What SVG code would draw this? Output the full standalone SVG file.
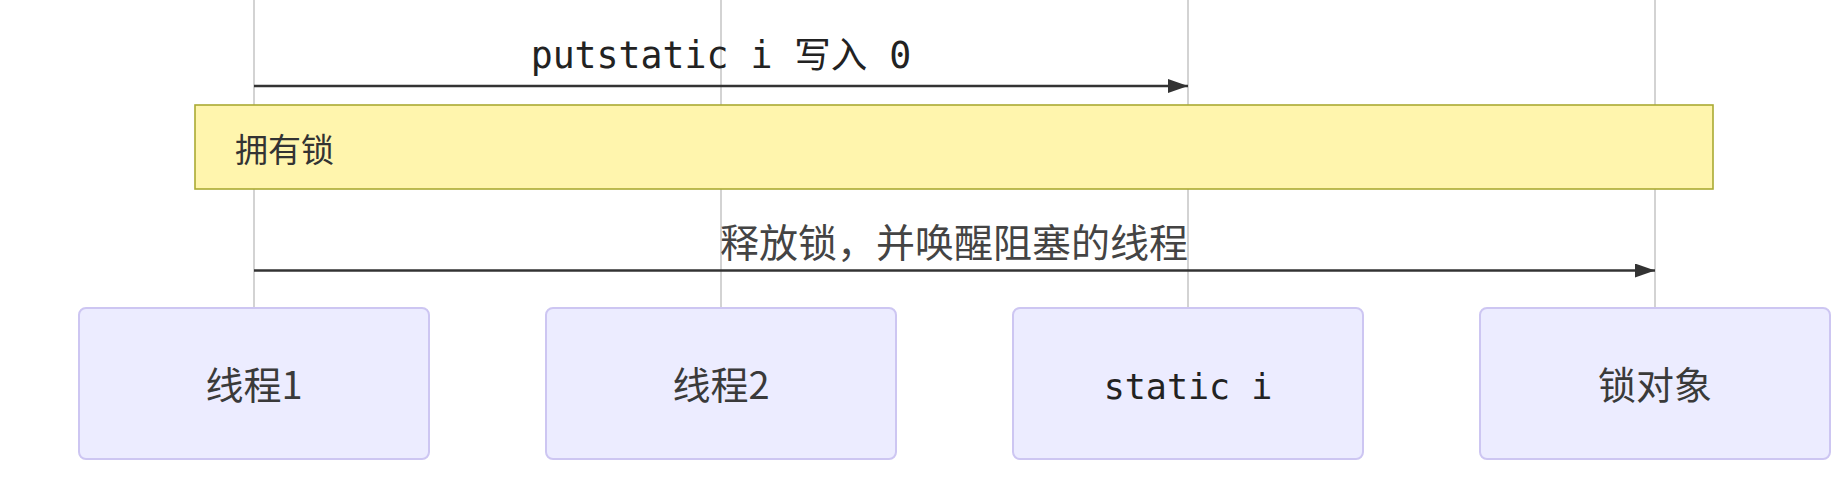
<svg xmlns="http://www.w3.org/2000/svg" width="1840" height="478" viewBox="0 0 1840 478">
  <style>
    .lifeline { stroke: #c8c8c8; stroke-width: 1.6; fill: none; }
    .actor { fill: #ECECFF; stroke: #cdc6f2; stroke-width: 2; }
    .actor-text { font-family: "Noto Sans CJK SC", "Noto Sans", sans-serif; font-size: 38px; fill: #3a3a3a; text-anchor: middle; }
    .actor-mono { font-family: "DejaVu Sans Mono", "Noto Sans CJK SC", monospace; font-size: 35px; fill: #222; text-anchor: middle; }
    .msg { stroke: #333; stroke-width: 2.6; fill: none; }
    .msg-mono { font-family: "DejaVu Sans Mono", "Noto Sans CJK SC", monospace; font-size: 36.5px; fill: #222; text-anchor: middle; }
    .msg-text { font-family: "Noto Sans CJK SC", "Noto Sans", sans-serif; font-size: 39px; fill: #444; text-anchor: middle; }
    .note { fill: #fff5ad; stroke: #aaaa33; stroke-width: 1.6; }
    .note-text { font-family: "Noto Sans CJK SC", "Noto Sans", sans-serif; font-size: 33px; fill: #333; }
  </style>
  <defs>
    <marker id="arrow" markerUnits="userSpaceOnUse" markerWidth="22" markerHeight="16" refX="20" refY="7" orient="auto">
      <path d="M0,0 L20,7 L0,14 z" fill="#333"/>
    </marker>
  </defs>
  <rect width="1840" height="478" fill="#ffffff"/>

  <g id="lifelines">
    <line class="lifeline" x1="254" y1="0" x2="254" y2="308"/>
    <line class="lifeline" x1="721" y1="0" x2="721" y2="308"/>
    <line class="lifeline" x1="1188" y1="0" x2="1188" y2="308"/>
    <line class="lifeline" x1="1655" y1="0" x2="1655" y2="308"/>
  </g>

  <g id="connectors">
    <line class="msg" x1="254" y1="86" x2="1188" y2="86" marker-end="url(#arrow)"/>
    <text class="msg-mono" x="721" y="68">putstatic i 写入 0</text>
    <line class="msg" x1="254" y1="270.5" x2="1655" y2="270.5" marker-end="url(#arrow)"/>
    <text class="msg-text" x="954" y="257">释放锁，并唤醒阻塞的线程</text>
  </g>

  <g id="note-lock">
    <rect class="note" x="195" y="105" width="1518" height="84"/>
    <text class="note-text" x="235" y="162">拥有锁</text>
  </g>

  <g id="actor-thread1">
    <rect class="actor" x="79" y="308" width="350" height="151" rx="7"/>
    <text class="actor-text" x="254" y="399">线程1</text>
  </g>
  <g id="actor-thread2">
    <rect class="actor" x="546" y="308" width="350" height="151" rx="7"/>
    <text class="actor-text" x="721" y="399">线程2</text>
  </g>
  <g id="actor-static-i">
    <rect class="actor" x="1013" y="308" width="350" height="151" rx="7"/>
    <text class="actor-mono" x="1188" y="399">static i</text>
  </g>
  <g id="actor-lock">
    <rect class="actor" x="1480" y="308" width="350" height="151" rx="7"/>
    <text class="actor-text" x="1655" y="399">锁对象</text>
  </g>
</svg>
